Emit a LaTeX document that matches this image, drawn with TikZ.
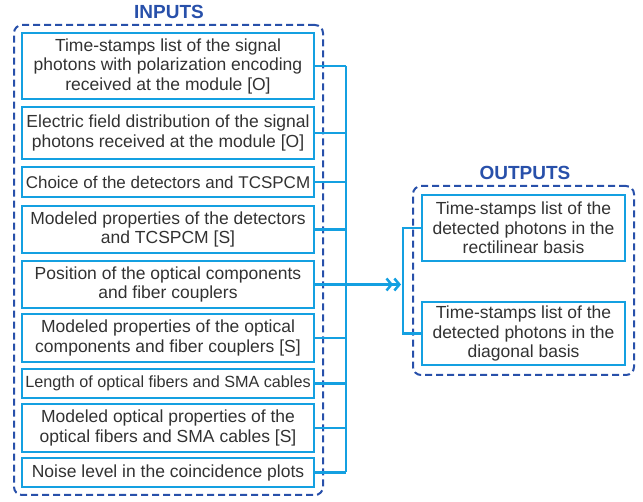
\documentclass[tikz,border=0pt]{standalone}
\usepackage{fontspec}
\setmainfont{Liberation Sans}
\usetikzlibrary{arrows.meta}
\definecolor{cyanc}{RGB}{20,160,225}
\definecolor{darkb}{RGB}{40,80,170}
\definecolor{txt}{RGB}{50,50,50}
\begin{document}
\begin{tikzpicture}[x=1pt,y=-1pt,
  inbox/.style={draw=cyanc, line width=2.5pt, rectangle, inner sep=0pt, minimum width=292pt, align=center, text=txt, font=\fontsize{17.5}{19.5}\selectfont},
  smallbox/.style={inbox, font=\fontsize{16.2}{19.5}\selectfont},
  outbox/.style={draw=cyanc, line width=2.5pt, rectangle, inner sep=0pt, minimum width=203pt, align=center, text=txt, font=\fontsize{17.5}{19.5}\selectfont},
  frame/.style={draw=darkb, line width=2pt, dash pattern=on 7pt off 4pt, rounded corners=8pt, rectangle, inner sep=0pt},
  title/.style={text=darkb, font=\fontsize{19}{22}\selectfont\bfseries},
  wire/.style={draw=cyanc, line width=2.5pt},
  arr/.style={wire, -{Straight Barb[length=5pt,width=12pt,line width=2.5pt] Straight Barb[length=5pt,width=12pt,line width=2.5pt]}}
]
\useasboundingbox (0,0) rectangle (643,502);
\node[frame, minimum width=309pt, minimum height=470pt] (inframe) at (168.5,260) {};
\node[frame, minimum width=221pt, minimum height=189pt] (outframe) at (523.5,280.5) {};
\node[title] (intitle) at (169,12) {INPUTS};
\node[title] (outtitle) at (525,173) {OUTPUTS};
\node[inbox, minimum height=66pt] (b1) at (168,66) {Time-stamps list of the signal\\photons with polarization encoding\\received at the module [O]};
\node[inbox, minimum height=52pt] (b2) at (168,133) {Electric field distribution of the signal\\photons received at the module [O]};
\node[inbox, font=\fontsize{17}{19.5}\selectfont, minimum height=30pt] (b3) at (168,182) {Choice of the detectors and TCSPCM};
\node[inbox, minimum height=47pt] (b4) at (168,229.5) {Modeled properties of the detectors\\and TCSPCM [S]};
\node[inbox, minimum height=47pt] (b5) at (168,284.5) {Position of the optical components\\and fiber couplers};
\node[inbox, minimum height=48pt] (b6) at (168,338) {Modeled properties of the optical\\components and fiber couplers [S]};
\node[smallbox, minimum height=29pt] (b7) at (168,383.5) {Length of optical fibers and SMA cables};
\node[inbox, minimum height=48pt] (b8) at (168,428) {Modeled optical properties of the\\optical fibers and SMA cables [S]};
\node[inbox, minimum height=29pt] (b9) at (168,472.5) {Noise level in the coincidence plots};
\node[outbox, minimum height=66pt] (o1) at (523.5,228) {Time-stamps list of the\\detected photons in the\\rectilinear basis};
\node[outbox, minimum height=63pt] (o2) at (523.5,333.5) {Time-stamps list of the\\detected photons in the\\diagonal basis};
\coordinate (bus) at (346,0);
\coordinate (obr) at (403,0);
\coordinate (tip) at (401,284.5);
\foreach \b in {b1,b2,b3,b4,b5,b6,b7,b8,b9} \draw[wire] (\b.east) -- (\b.east -| bus);
\draw[wire] (b1.east -| bus) -- (b9.east -| bus);
\draw[arr] (b5.east -| bus) -- (tip);
\draw[wire] (o1.west) -- (o1.west -| obr) -- (o2.west -| obr) -- (o2.west);
\end{tikzpicture}
\end{document}
